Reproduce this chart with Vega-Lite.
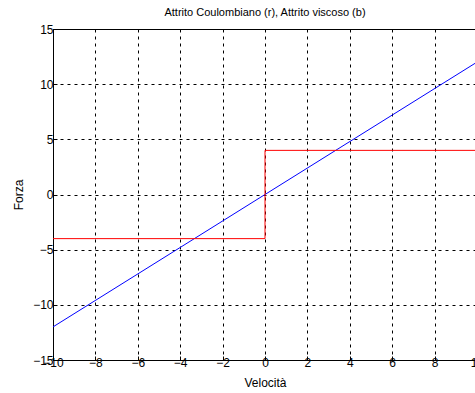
{
  "$schema": "https://vega.github.io/schema/vega-lite/v6.json",
  "width": 424,
  "height": 331,
  "autosize": {"type": "none"},
  "padding": {"left": 53, "top": 29, "right": 0, "bottom": 40},
  "background": "white",
  "title": {"text": "Attrito Coulombiano (r), Attrito viscoso (b)", "font": "Liberation Sans", "fontSize": 11, "fontWeight": "normal", "color": "black", "offset": 5, "anchor": "middle"},
  "config": {
    "view": {"stroke": "black", "strokeWidth": 1},
    "axis": {
      "labelFont": "Liberation Sans", "labelFontSize": 12, "labelColor": "black",
      "titleFont": "Liberation Sans", "titleFontSize": 12, "titleFontWeight": "normal", "titleColor": "black",
      "domainColor": "black", "grid": true, "gridColor": "black", "gridDash": [3, 4], "gridOpacity": 1, "gridWidth": 1,
      "ticks": true, "tickSize": -4, "tickColor": "black"
    }
  },
  "data": {"values": [
    {"x": -10, "y": -12, "s": "b", "o": 0},
    {"x": 10, "y": 12, "s": "b", "o": 1},
    {"x": -10, "y": -4, "s": "r", "o": 0},
    {"x": 0, "y": -4, "s": "r", "o": 1},
    {"x": 0, "y": 4, "s": "r", "o": 2},
    {"x": 10, "y": 4, "s": "r", "o": 3}
  ]},
  "mark": {"type": "line", "strokeWidth": 1, "clip": true},
  "encoding": {
    "x": {"field": "x", "type": "quantitative", "scale": {"domain": [-10, 10], "nice": false, "zero": false},
      "axis": {"title": "Velocità", "values": [-10, -8, -6, -4, -2, 0, 2, 4, 6, 8, 10], "labelPadding": 1, "titlePadding": 9, "labelFlush": false}},
    "y": {"field": "y", "type": "quantitative", "scale": {"domain": [-15, 15], "nice": false, "zero": false},
      "axis": {"title": "Forza", "values": [-15, -10, -5, 0, 5, 10, 15], "labelPadding": 4, "titlePadding": 7, "labelFlush": false}},
    "color": {"field": "s", "type": "nominal", "scale": {"domain": ["r", "b"], "range": ["#ff0000", "#0000ff"]}, "legend": null},
    "order": {"field": "o", "type": "quantitative"}
  }
}
